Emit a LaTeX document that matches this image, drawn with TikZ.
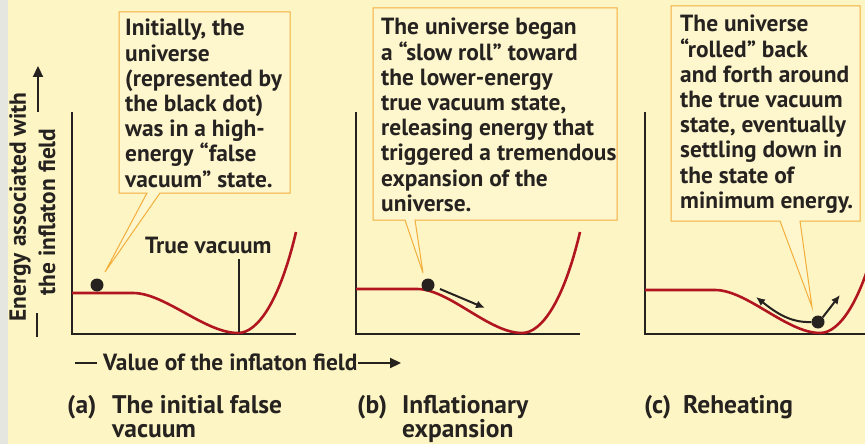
\documentclass[tikz,border=0pt]{standalone}
\usepackage{fontspec}
\setmainfont{PT Sans}
\usetikzlibrary{arrows.meta}
\definecolor{bg}{HTML}{FEF5C4}
\definecolor{strip}{HTML}{E6E6E0}
\definecolor{curvered}{HTML}{B01520}
\definecolor{callout}{HTML}{F2AE3C}
\definecolor{ink}{HTML}{252220}
\tikzset{
  txt/.style={font=\bfseries\fontsize{23.4}{25.2}\selectfont, text=ink, inner sep=0pt, align=left},
  lbl/.style={font=\bfseries\fontsize{25.5}{24}\selectfont, text=ink, inner sep=0pt, anchor=base west},
  curve/.style={draw=curvered, line width=2.6pt},
  axis/.style={draw=ink, line width=2.4pt},
  calloutbox/.style={draw=callout, line width=1pt, fill=bg!85!white, line join=miter},
  ball/.style={circle, fill=ink, inner sep=0pt, minimum size=13pt},
  motion/.style={draw=ink, line width=2pt, -{Latex[length=9pt,width=8pt]}},
  fieldarrow/.style={draw=ink, line width=2.2pt, -{Triangle[length=11pt,width=10pt]}},
}
\begin{document}
\begin{tikzpicture}[x=1pt, y=-1pt]
\clip (0,0) rectangle (865,444);
\fill[bg] (0,0) rectangle (865,444);
\fill[strip] (0,0) rectangle (8,444);

% ---------- callouts ----------
\draw[calloutbox] (119,12) -- (290,12) -- (290,193) -- (160,193) -- (105,272) -- (147,193) -- (119,193) -- cycle;
\draw[calloutbox] (373,8) -- (617,8) -- (617,220) -- (415,220) -- (423,273) -- (405,220) -- (373,220) -- cycle;
\draw[calloutbox] (671,6) -- (860,6) -- (860,221) -- (800,221) -- (812,307) -- (780,221) -- (671,221) -- cycle;

\node[txt, anchor=north west] (ta) at (125,19) {Initially, the\\universe\\(represented by\\the black dot)\\was in a high-\\energy “false\\vacuum” state.};
\node[txt, anchor=north west] (tb) at (381,18) {The universe began\\a “slow roll” toward\\the lower-energy\\true vacuum state,\\releasing energy that\\triggered a tremendous\\expansion of the\\universe.};
\node[txt, anchor=north west] (tc) at (680,15) {The universe\\“rolled” back\\and forth around\\the true vacuum\\state, eventually\\settling down in\\the state of\\minimum energy.};

% ---------- y-axis label ----------
\node[txt, rotate=90] (ylab1) at (20,207) {Energy associated with};
\node[txt, rotate=90] (ylab2) at (47,212) {the inflaton field};
\coordinate (ydashA) at (37,337);
\coordinate (ydashB) at (37,313);
\draw[ink, line width=2.2pt] (ydashA) -- (ydashB);
\coordinate (yarrA) at (38,112);
\coordinate (yarrB) at (38,66);
\draw[fieldarrow] (yarrA) -- (yarrB);

% ---------- panel (a) ----------
\draw[axis] (72,112) -- (72,334) -- (296,334);
\draw[curve] (72,293) -- (133,293) .. controls (165,293) and (205,333) .. (238,333) .. controls (258,333) and (280,300) .. (296,232);
\node[txt, anchor=base west] (tv) at (145,253) {True vacuum};
\coordinate (tvtop) at (239,259);
\coordinate (tvbot) at (239,332);
\draw[ink, line width=1.5pt] (tvtop) -- (tvbot);
\node[ball] (dotA) at (97,285) {};

% ---------- panel (b) ----------
\draw[axis] (356,112) -- (356,334) -- (580,334);
\draw[curve] (356,289) -- (417,289) .. controls (449,289) and (489,333) .. (522,333) .. controls (542,333) and (564,300) .. (580,232);
\node[ball] (dotB) at (428,285) {};
\coordinate (bA) at (440,289);
\coordinate (bB) at (485,308);
\draw[motion] (bA) -- (bB);

% ---------- panel (c) ----------
\draw[axis] (645,112) -- (645,334) -- (865,334);
\draw[curve] (645,290) -- (715,290) .. controls (747,290) and (787,333) .. (820,333) .. controls (840,333) and (862,300) .. (878,232);
\node[ball] (dotC) at (818,322) {};
\coordinate (cL) at (756,297);
\coordinate (cR) at (840,295);
\draw[motion] (dotC.west) .. controls (790,323) and (775,312) .. (cL);
\draw[motion] (dotC.north east) -- (cR);

% ---------- x-axis label ----------
\coordinate (xdA) at (75,363);
\coordinate (xdB) at (97,363);
\draw[ink, line width=2.2pt] (xdA) -- (xdB);
\node[txt, anchor=base west] (xlab) at (103,370) {Value of the inflaton field};
\coordinate (xaA) at (358,363);
\coordinate (xaB) at (401,363);
\draw[fieldarrow] (xaA) -- (xaB);

% ---------- panel captions ----------
\node[lbl] (capa) at (67,413) {(a)};
\node[lbl] (capat) at (112,413) {The initial false};
\node[lbl] (capa2) at (112,437) {vacuum};
\node[lbl] (capb) at (357,413) {(b)};
\node[lbl] (capbt) at (402,413) {Inflationary};
\node[lbl] (capb2) at (402,437) {expansion};
\node[lbl] (capc) at (644,413) {(c)};
\node[lbl] (capct) at (683,413) {Reheating};
\end{tikzpicture}
\end{document}
